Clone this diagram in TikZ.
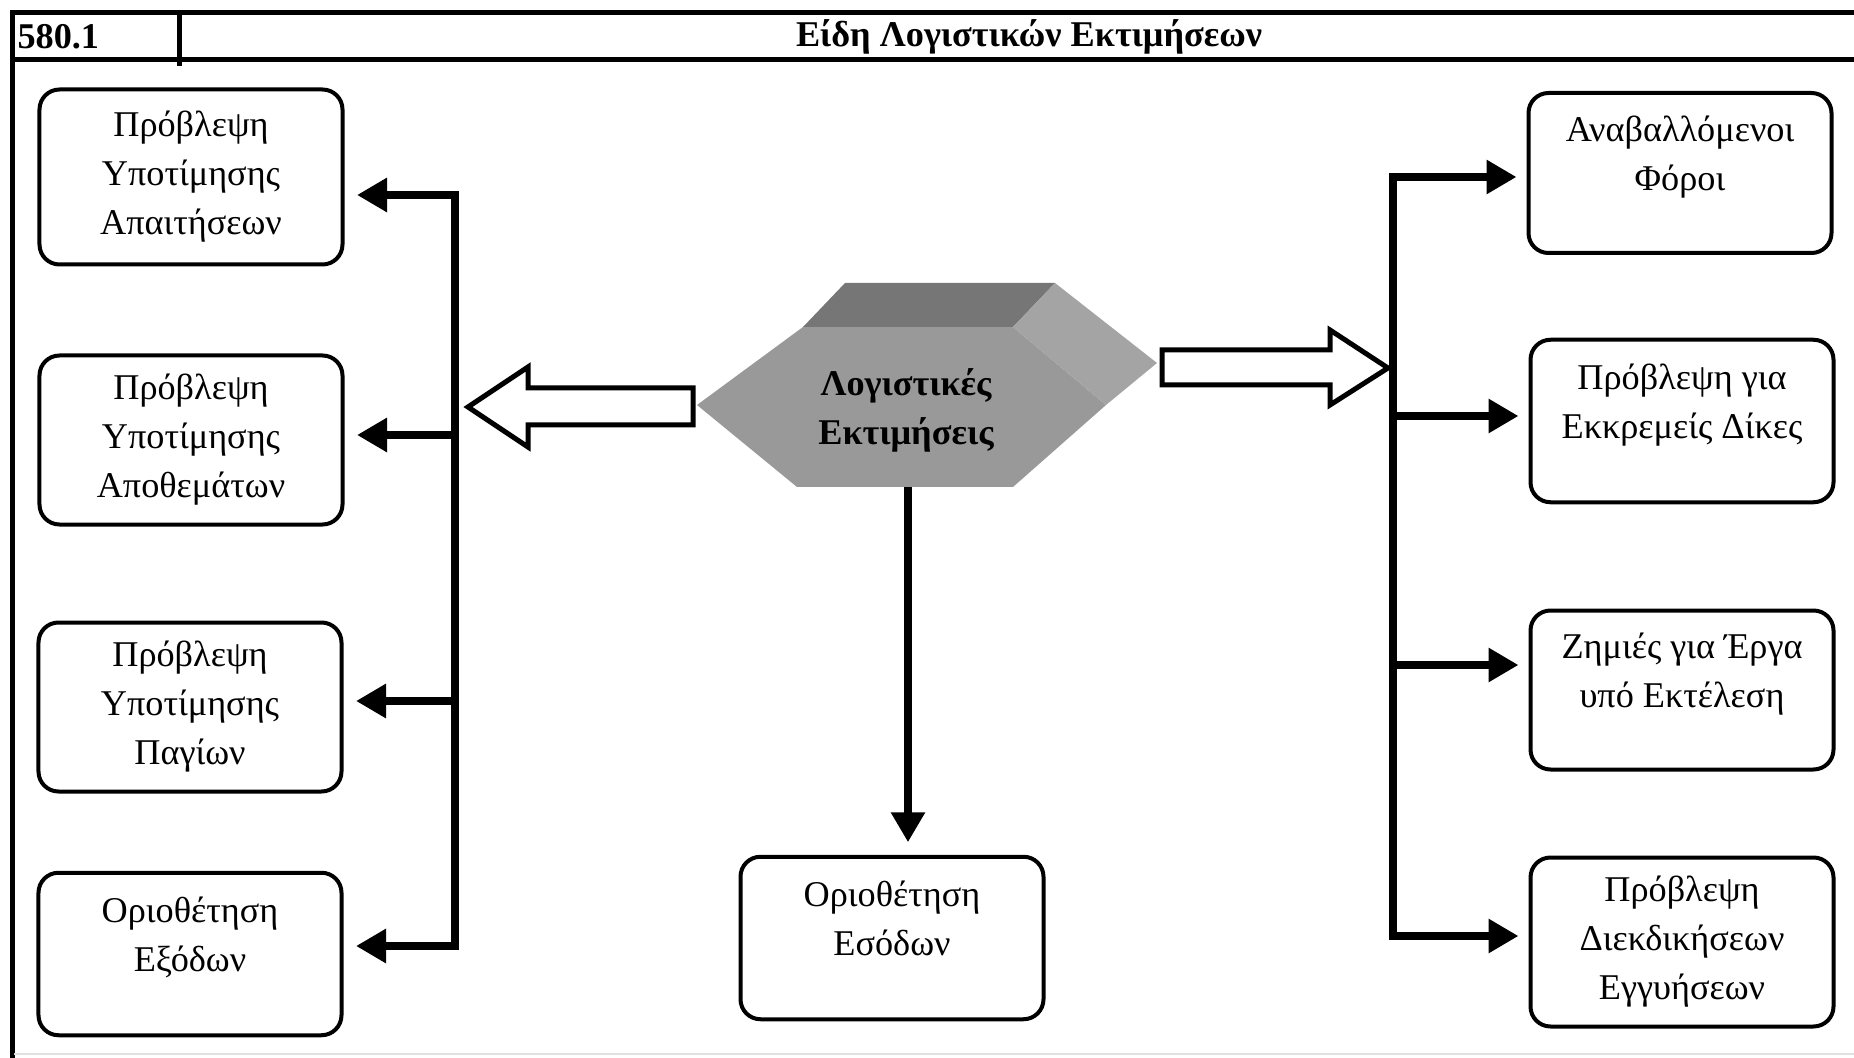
\documentclass[tikz,border=0pt]{standalone}
\usepackage{fontspec}
\setmainfont{Liberation Serif}
\usetikzlibrary{arrows.meta}
\providecommand{\Front}{999999}
\providecommand{\Lid}{767676}
\providecommand{\Side}{A4A4A4}
\newcommand{\Unit}{0.4pt}
\newcommand{\Rule}{2pt}
\newcommand{\Bus}{3.2pt}
\newcommand{\BoxFont}{\fontsize{14.5pt}{19.6pt}\selectfont}
\newcommand{\Gap}{\\[-4pt]\mbox{}}
\definecolor{front}{HTML}{\Front}
\definecolor{lid}{HTML}{\Lid}
\definecolor{side}{HTML}{\Side}

\begin{document}
\begin{tikzpicture}[x=\Unit,y=-\Unit, line join=miter,
  >={Triangle[length=12pt,width=13pt]},
  card/.style={draw, rounded corners=8pt, line width=1.6pt, minimum width=121.2pt,
    minimum height=66pt, align=center, font=\BoxFont, inner sep=0pt},
  bus/.style={line width=\Bus},
  hollow/.style={draw, line width=\Rule, fill=white}]

  \useasboundingbox (0,0) rectangle (1854,1058);

  % ---- the frame and its heading ------------------------------------------
  \draw[line width=\Rule] (12,1058) -- (12,12.5) -- (1854,12.5);
  \draw[line width=\Rule] (12,60) -- (1854,60);
  \draw[line width=\Rule] (179,12.5) -- (179,66);
  \draw[black!12,line width=1pt] (14,1054) -- (1854,1054);
  \node[anchor=west, font=\bfseries\BoxFont, inner sep=0pt] (code) at (17,37) {580.1};
  \node[font=\bfseries\BoxFont, inner sep=0pt] (title) at (1029,37) {Είδη Λογιστικών Εκτιμήσεων};

  % ---- the bevelled hexagon in the middle ---------------------------------
  \fill[front] (697,405) -- (803,327) -- (1013,327) -- (1106,405) -- (1013,487) -- (797,487) -- cycle;
  \fill[lid] (803,327) -- (845,283) -- (1055,283) -- (1013,327) -- cycle;
  \fill[side] (1013,327) -- (1055,283) -- (1157,363) -- (1106,405) -- cycle;
  \node[font=\bfseries\BoxFont, align=center, inner sep=0pt] (est) at (906,410) {Λογιστικές\\Εκτιμήσεις};

  % ---- the two open arrows ------------------------------------------------
  \draw[hollow] (693,388) -- (528,388) -- (528,367) -- (468,407) -- (528,447) -- (528,425) -- (693,425) -- cycle;
  \draw[hollow] (1162,350) -- (1330,350) -- (1330,330) -- (1388,368) -- (1330,405) -- (1330,385) -- (1162,385) -- cycle;

  % ---- boxes on the left --------------------------------------------------
  \node[card, minimum height=70pt] (apait) at (191,177) {Πρόβλεψη\\Υποτίμησης\\Απαιτήσεων};
  \node[card, minimum height=67.6pt] (apoth) at (191,440) {Πρόβλεψη\\Υποτίμησης\\Αποθεμάτων};
  \node[card, minimum height=67.6pt] (pagia) at (190,707) {Πρόβλεψη\\Υποτίμησης\\Παγίων};
  \node[card, minimum height=65pt] (exoda) at (190,954) {Οριοθέτηση\\Εξόδων\Gap};

  % ---- boxes on the right -------------------------------------------------
  \node[card, minimum height=64pt] (foroi) at (1680,173) {Αναβαλλόμενοι\\Φόροι\Gap};
  \node[card, minimum height=65pt] (dikes) at (1682,421) {Πρόβλεψη για\\Εκκρεμείς Δίκες\Gap};
  \node[card, minimum height=63.6pt] (erga) at (1682,690) {Ζημιές για Έργα\\υπό Εκτέλεση\Gap};
  \node[card, minimum height=67.6pt] (engy) at (1682,942) {Πρόβλεψη\\Διεκδικήσεων\\Εγγυήσεων};

  % ---- box below ----------------------------------------------------------
  \node[card, minimum height=65pt] (esoda) at (892,938) {Οριοθέτηση\\Εσόδων\Gap};

  % ---- the bus bars -------------------------------------------------------
  \coordinate (la) at (455,195);
  \coordinate (lb) at (455,435);
  \coordinate (lc) at (455,701);
  \coordinate (ld) at (455,946);
  \draw[bus,<->,shorten <=5pt,shorten >=5pt] (la -| apait.east) -- (la) -- (ld) -- (ld -| exoda.east);
  \draw[bus,->,shorten >=5pt] (lb) -- (lb -| apoth.east);
  \draw[bus,->,shorten >=5pt] (lc) -- (lc -| pagia.east);

  \coordinate (ra) at (1393,177);
  \coordinate (rb) at (1393,416);
  \coordinate (rc) at (1393,665);
  \coordinate (rd) at (1393,936);
  \draw[bus,<->,shorten <=4pt,shorten >=4pt] (ra -| foroi.west) -- (ra) -- (rd) -- (rd -| engy.west);
  \draw[bus,->,shorten >=4pt] (rb) -- (rb -| dikes.west);
  \draw[bus,->,shorten >=4pt] (rc) -- (rc -| erga.west);

  \coordinate (cd) at (908,487);
  \draw[bus,->,shorten >=5pt] (cd) -- (cd |- esoda.north);

\end{tikzpicture}
\end{document}
